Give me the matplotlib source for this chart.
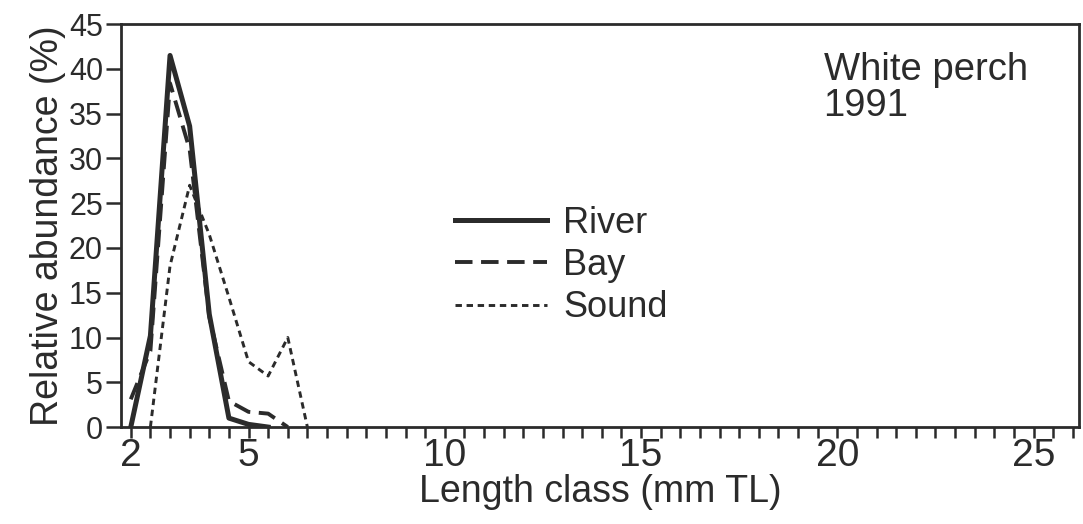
import numpy as np
import matplotlib
matplotlib.use('Agg')
import matplotlib.pyplot as plt
from matplotlib.ticker import MultipleLocator

plt.rcParams['font.family'] = ['Liberation Sans', 'DejaVu Sans']

# length classes (mm TL) and relative abundance (%)
riverX = [2, 2.5, 3, 3.5, 4, 4.5, 5, 5.5]
riverY = [0, 10.2, 41.5, 33.6, 12.6, 1.0, 0.3, 0]

bayX = [2, 2.5, 3, 3.5, 4, 4.5, 5, 5.5, 6]
bayY = [3.1, 8.5, 38.4, 31.0, 12.3, 2.9, 1.7, 1.5, 0]

soundX = [2.5, 3, 3.5, 4, 4.5, 5, 5.5, 6, 6.5]
soundY = [0, 18.0, 27.0, 21.5, 14.5, 7.3, 5.7, 10.0, 0]

xLabels = [2, 5, 10, 15, 20, 25]
yTicks = list(range(0, 50, 5))

ink = '#2b2b2b'

fig = plt.figure(figsize=(10.83, 5.24), dpi=100)
ax = fig.add_axes([0.1117, 0.185, 0.885, 0.769])

# plot the three sites
ax.plot(riverX, riverY, color=ink, linestyle='-', linewidth=3.6, label='River')
ax.plot(bayX, bayY, color=ink, linestyle=(0, (4.5, 2.2)), linewidth=2.8,
        label='Bay')
ax.plot(soundX, soundY, color=ink, linestyle=(0, (2.2, 1.6)), linewidth=2.1,
        label='Sound')

# axes
ax.set_xlim(1.75, 26.17)
ax.set_ylim(0, 45)
ax.set_xticks(xLabels)
ax.xaxis.set_minor_locator(MultipleLocator(0.5))
ax.set_yticks(yTicks)
for s in ax.spines.values():
    s.set_linewidth(2.0)
    s.set_color(ink)
ax.tick_params(axis='x', which='both', direction='out', length=8, width=1.8,
               color=ink, labelsize=28, labelcolor=ink, pad=0)
ax.tick_params(axis='y', which='both', direction='out', length=11, width=1.8,
               color=ink, labelsize=22, labelcolor=ink, pad=2)

# labels
ax.set_xlabel('Length class (mm TL)', fontsize=27, color=ink, labelpad=0)
ax.set_ylabel('Relative abundance (%)', fontsize=27, color=ink, labelpad=2)

ax.text(0.733, 0.93, 'White perch\n1991', transform=ax.transAxes,
        fontsize=27.5, color=ink, va='top', ha='left', linespacing=0.98)

leg = ax.legend(loc='upper left', bbox_to_anchor=(0.333, 0.585), frameon=False,
                fontsize=26, handlelength=2.55, handletextpad=0.45,
                labelspacing=0.2, borderaxespad=0)
for t in leg.get_texts():
    t.set_color(ink)

plt.savefig('out.png', dpi=100)
